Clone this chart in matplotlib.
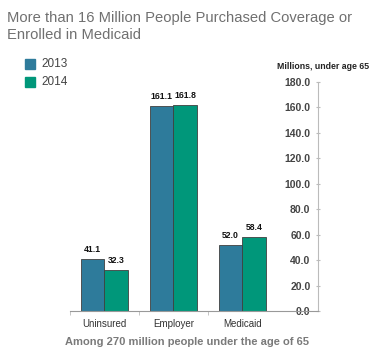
import matplotlib.pyplot as plt
import numpy as np

categories = ['Uninsured', 'Employer', 'Medicaid']
vals_2013 = [41.1, 161.1, 52.0]
vals_2014 = [32.3, 161.8, 58.4]
years = ['2013', '2014']
yticks = [0, 20, 40, 60, 80, 100, 120, 140, 160, 180]

BLUE = '#2e7b9b'
GREEN = '#00977a'
SMALL = 'Liberation Sans'


def main():
    fig = plt.figure(figsize=(3.76, 3.56), dpi=100)
    ax = fig.add_axes([0.186, 0.1264, 0.66, 0.6433])

    # spine setup first (set_position resets ticks)
    ax.spines['top'].set_visible(False)
    ax.spines['right'].set_visible(False)
    ax.spines['left'].set_position(('axes', 1.0))
    ax.spines['left'].set_color('#bbbbbb')
    ax.spines['bottom'].set_color('#999999')

    x = np.arange(len(categories))
    w = 0.34
    b1 = ax.bar(x - w / 2, vals_2013, w, color=BLUE, edgecolor='#404040', linewidth=0.6)
    b2 = ax.bar(x + w / 2, vals_2014, w, color=GREEN, edgecolor='#404040', linewidth=0.6)
    for bars, vals in ((b1, vals_2013), (b2, vals_2014)):
        for r, v in zip(bars, vals):
            ax.text(r.get_x() + r.get_width() / 2, v + 4, '%.1f' % v,
                    ha='center', va='bottom', fontsize=6.2, fontweight='bold',
                    color='#111111', family=SMALL)

    ax.set_xlim(-0.5, 3.1)
    ax.set_ylim(0, 180)
    ax.set_yticks(yticks)
    ax.set_yticklabels(['%.1f' % t for t in yticks], fontsize=7.5, fontweight='bold',
                       color='#444444', family=SMALL)
    ax.tick_params(axis='y', length=3, color='#bbbbbb', pad=4, direction='inout')

    ax.set_xticks(x)
    ax.set_xticklabels(categories, fontsize=7, color='#333333', family=SMALL)
    ax.tick_params(axis='x', length=0, pad=6)
    ax.set_xticks([-0.5, 0.5, 1.5], minor=True)
    ax.tick_params(axis='x', which='minor', length=3, color='#bbbbbb')

    fig.text(0.981, 0.812, 'Millions, under age 65', ha='right', va='center',
             fontsize=6.3, fontweight='bold', color='#222222', family=SMALL)

    fig.text(0.018, 0.968, 'More than 16 Million People Purchased Coverage or\nEnrolled in Medicaid',
             ha='left', va='top', fontsize=10.6, color='#707070', family='Liberation Sans',
             linespacing=1.2)

    fig.text(0.497, 0.039, 'Among 270 million people under the age of 65', ha='center',
             va='center', fontsize=8, fontweight='bold', color='#7a7a7a', family=SMALL)

    # legend
    for i, (lab, c) in enumerate(zip(years, [BLUE, GREEN])):
        yy = 0.82 - i * 0.05
        fig.patches.append(plt.Rectangle((0.066, yy - 0.014), 0.028, 0.029,
                                         transform=fig.transFigure, color=c))
        fig.text(0.11, yy, lab, ha='left', va='center', fontsize=8.5, color='#444444',
                 family=SMALL)

    fig.savefig('out.png', dpi=100)


if __name__ == "__main__":
    main()
